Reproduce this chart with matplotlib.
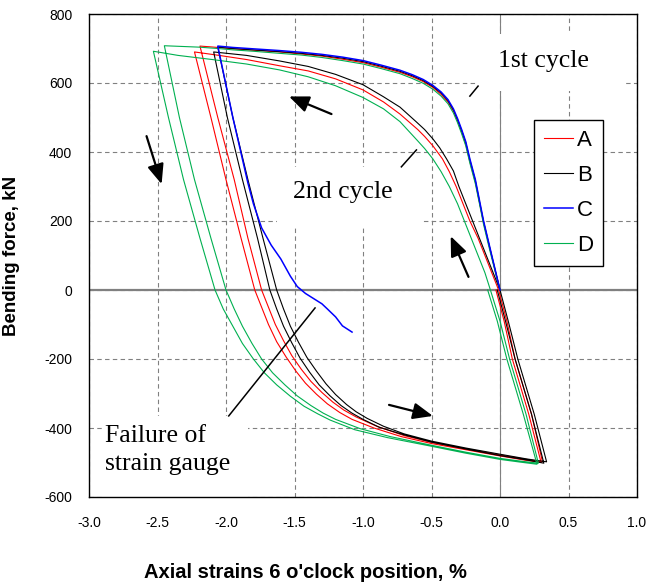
import matplotlib
matplotlib.use("Agg")
from matplotlib import pyplot as plt
from matplotlib.patches import Rectangle

plt.rcParams["axes.unicode_minus"] = False

# first loading branch, strain positions shared by the four gauges
first_x = [0.00, -0.03, -0.06, -0.09, -0.12, -0.15, -0.18, -0.22, -0.25, -0.28, -0.31, -0.34, -0.38, -0.43,
           -0.49, -0.56, -0.64, -0.73, -0.87, -1.00, -1.15, -1.30, -1.45, -1.61, -1.80, -1.95, -2.06]
a_first = [0, 48, 97, 146, 195, 254, 313, 372, 422, 458, 490, 518, 545, 567,
           587, 604, 618, 631, 646, 659, 669, 678, 684, 690, 695, 699, 703]
b_first = [0, 49, 98, 148, 198, 257, 317, 377, 427, 462, 494, 522, 549, 571,
           590, 607, 621, 634, 649, 662, 672, 680, 686, 691, 696, 700, 704]
c_first = [0, 50, 100, 150, 200, 260, 320, 380, 430, 465, 497, 525, 552, 574,
           593, 610, 624, 637, 652, 665, 675, 683, 689, 694, 699, 703, 707]
d_first = [0, 45, 92, 140, 190, 250, 308, 368, 418, 453, 485, 513, 540, 562,
           582, 599, 613, 627, 642, 655, 665, 674, 681, 686, 692, 696, 700]

# gauge A (red)
a_peak1_x, a_peak1_y = [-2.12, -2.19], [705, 707]
a_unload1_x = [-2.06, -1.94, -1.84, -1.74, -1.69, -1.64, -1.58, -1.52, -1.45, -1.38, -1.30, -1.22, -1.14,
               -1.05, -0.90, -0.70, -0.50, -0.25, 0.00, 0.18, 0.31]
a_unload1_y = [500, 320, 150, 0, -50, -100, -147, -190, -230, -265, -297, -325, -348,
               -368, -395, -422, -441, -460, -478, -490, -498]
a_reload1_x = [0.23, 0.11, 0.05, -0.01, -0.06, -0.11, -0.16, -0.22, -0.27, -0.32, -0.37, -0.42, -0.49, -0.55,
               -0.60, -0.73, -0.85, -1.00, -1.20, -1.40, -1.61, -1.85, -2.05, -2.23]
a_reload1_y = [-360, -200, -90, 0, 50, 100, 150, 200, 250, 300, 343, 380, 418, 445,
               465, 510, 545, 580, 612, 635, 650, 668, 680, 690]
a_unload2_x = [-2.11, -2.00, -1.89, -1.79, -1.74, -1.69, -1.63, -1.56, -1.49, -1.42, -1.34, -1.26, -1.17,
               -1.08, -0.92, -0.72, -0.50, -0.25, 0.00, 0.18, 0.30]
a_unload2_y = [500, 320, 150, 0, -50, -100, -150, -195, -235, -270, -302, -330, -355,
               -375, -400, -425, -445, -463, -481, -493, -500]
a_reload2_x = [0.21, 0.09, 0.03, -0.03]
a_reload2_y = [-360, -200, -90, 0]

# gauge B (black)
b_unload1_x = [-1.95, -1.84, -1.73, -1.63, -1.58, -1.53, -1.47, -1.41, -1.34, -1.27, -1.20, -1.12, -1.05,
               -0.97, -0.85, -0.70, -0.50, -0.25, 0.00, 0.20, 0.34]
b_unload1_y = [500, 320, 150, 0, -55, -105, -152, -195, -235, -272, -303, -332, -353,
               -372, -395, -417, -438, -458, -476, -490, -498]
b_reload1_x = [0.25, 0.13, 0.06, 0.00, -0.05, -0.10, -0.15, -0.20, -0.25, -0.30, -0.34, -0.39, -0.44, -0.49,
               -0.55, -0.61, -0.73, -0.85, -1.00, -1.20, -1.40, -1.61, -1.85, -2.09]
b_reload1_y = [-360, -200, -90, 0, 50, 100, 150, 200, 250, 300, 345, 380, 412, 438,
               465, 487, 530, 560, 595, 625, 648, 664, 680, 690]
b_unload2_x = [-1.99, -1.88, -1.77, -1.68, -1.63, -1.58, -1.52, -1.46, -1.39, -1.32, -1.24, -1.16, -1.08,
               -1.00, -0.88, -0.70, -0.50, -0.25, 0.00, 0.20, 0.32]
b_unload2_y = [500, 320, 150, 0, -55, -105, -153, -197, -238, -275, -307, -335, -357,
               -375, -398, -420, -441, -461, -480, -493, -502]
b_reload2_x = [0.23, 0.11, 0.04, -0.02]
b_reload2_y = [-360, -200, -90, 0]

# gauge C (blue), lost during the first unloading
c_unload_x = [-1.95, -1.84, -1.80, -1.74, -1.67, -1.60, -1.53, -1.48, -1.42, -1.36, -1.30, -1.26, -1.20, -1.15, -1.08]
c_unload_y = [500, 310, 250, 180, 130, 90, 40, 10, -10, -25, -40, -55, -78, -104, -122]

# gauge D (green)
d_peak1_x, d_peak1_y = [-2.20, -2.45], [704, 708]
d_unload1_x = [-2.34, -2.23, -2.11, -2.00, -1.94, -1.88, -1.81, -1.74, -1.66, -1.57, -1.48, -1.38, -1.29,
               -1.20, -1.02, -0.80, -0.50, -0.25, 0.00, 0.15, 0.28]
d_unload1_y = [500, 320, 150, 0, -55, -105, -155, -200, -240, -275, -307, -335, -357,
               -375, -402, -425, -450, -470, -488, -496, -502]
d_reload1_x = [0.19, 0.07, 0.00, -0.07, -0.11, -0.16, -0.21, -0.26, -0.31, -0.37, -0.43, -0.49, -0.55, -0.60,
               -0.73, -0.85, -1.00, -1.20, -1.40, -1.61, -1.85, -2.10, -2.35, -2.53]
d_reload1_y = [-360, -200, -90, 0, 50, 100, 150, 200, 250, 300, 343, 380, 410, 432,
               488, 525, 558, 592, 618, 638, 655, 668, 680, 692]
d_unload2_x = [-2.42, -2.31, -2.19, -2.08, -2.02, -1.95, -1.88, -1.80, -1.72, -1.63, -1.53, -1.43, -1.33,
               -1.24, -1.06, -0.82, -0.50, -0.25, 0.00, 0.15, 0.27]
d_unload2_y = [500, 320, 150, 0, -55, -105, -155, -200, -240, -275, -308, -337, -359,
               -377, -405, -428, -453, -473, -491, -499, -505]
d_reload2_x = [0.17, 0.05, -0.02, -0.09]
d_reload2_y = [-360, -200, -90, 0]

labels = ["A", "B", "C", "D"]
colors = ["#ff0000", "#000000", "#0000ff", "#00b050"]

a_x = first_x + a_peak1_x + a_unload1_x + a_reload1_x + a_unload2_x + a_reload2_x
a_y = a_first + a_peak1_y + a_unload1_y + a_reload1_y + a_unload2_y + a_reload2_y
b_x = first_x + b_unload1_x + b_reload1_x + b_unload2_x + b_reload2_x
b_y = b_first + b_unload1_y + b_reload1_y + b_unload2_y + b_reload2_y
c_x = first_x + c_unload_x
c_y = c_first + c_unload_y
d_x = first_x + d_peak1_x + d_unload1_x + d_reload1_x + d_unload2_x + d_reload2_x
d_y = d_first + d_peak1_y + d_unload1_y + d_reload1_y + d_unload2_y + d_reload2_y

fig = plt.figure(figsize=(6.49, 5.85), dpi=100)
ax = fig.add_axes([89 / 649, 1 - 497 / 585, 548 / 649, 483 / 585])

serif = "Liberation Serif"
sans = "Liberation Sans"

ax.plot(a_x, a_y, color=colors[0], lw=0.8, label=labels[0])
ax.plot(b_x, b_y, color=colors[1], lw=0.8, label=labels[1])
ax.plot(c_x, c_y, color=colors[2], lw=1.1, label=labels[2], zorder=2.5)
ax.plot(d_x, d_y, color=colors[3], lw=0.8, label=labels[3])

ax.set_xlim(-3.0, 1.0)
ax.set_ylim(-600, 800)
ax.set_xticks([-3.0, -2.5, -2.0, -1.5, -1.0, -0.5, 0.0, 0.5, 1.0])
ax.set_xticklabels(["-3.0", "-2.5", "-2.0", "-1.5", "-1.0", "-0.5", "0.0", "0.5", "1.0"])
ax.set_yticks(range(-600, 801, 200))
ax.tick_params(length=0, labelsize=10)
ax.tick_params(axis="x", pad=14)
ax.tick_params(axis="y", pad=12)
for lab in ax.get_xticklabels() + ax.get_yticklabels():
    lab.set_fontfamily(sans)

ax.set_axisbelow(True)
ax.grid(True, color="#808080", lw=0.8, ls=(0, (4, 3)))
ax.axhline(0, color="#808080", lw=1.6, zorder=1)
ax.axvline(0, color="#808080", lw=0.8, zorder=1)
for s in ax.spines.values():
    s.set_color("black")
    s.set_linewidth(1.0)

# white text boxes hiding the grid behind the notes
for bx, by, bw, bh in [(-0.16, 577, 1.06, 165), (-1.63, 186, 1.06, 171), (-2.90, -600, 1.06, 235)]:
    ax.add_patch(Rectangle((bx, by), bw, bh, facecolor="white", edgecolor="none", zorder=1.5))

ax.text(0.32, 664, "1st cycle", family=serif, fontsize=18.5, ha="center", va="center", zorder=3)
ax.text(-1.15, 284, "2nd cycle", family=serif, fontsize=18.5, ha="center", va="center", zorder=3)
ax.text(-2.88, -465, "Failure of\nstrain gauge", family=serif, fontsize=18.5, ha="left", va="center",
        linespacing=1.35, zorder=3)

# pointer lines from the notes
ax.plot([-0.22, -0.16], [562, 591], color="black", lw=1.1, zorder=3)
ax.plot([-0.72, -0.61], [357, 406], color="black", lw=1.1, zorder=3)
ax.plot([-1.35, -1.98], [-52, -365], color="black", lw=1.1, zorder=3)

# loading direction arrows
arrow = dict(arrowstyle="-|>,head_length=1.2,head_width=0.5", color="black", lw=1.6,
             shrinkA=0, shrinkB=0)
for (x0, y0), (x1, y1) in [((-1.23, 510), (-1.54, 561)), ((-2.58, 446), (-2.47, 307)),
                           ((-0.23, 38), (-0.36, 156)), ((-0.81, -333), (-0.49, -365))]:
    ax.annotate("", xy=(x1, y1), xytext=(x0, y0), arrowprops=arrow, zorder=3)

leg = ax.legend(loc="upper left", bbox_to_anchor=(0.812, 0.78), borderaxespad=0,
                prop={"family": sans, "size": 16}, handlelength=1.3, handletextpad=0.18,
                labelspacing=0.62, borderpad=0.45, fancybox=False, framealpha=1)
leg.get_frame().set_edgecolor("black")
leg.get_frame().set_linewidth(1.0)

ax.set_ylabel("Bending force, kN", family=sans, fontsize=13.5, fontweight="bold")
ax.yaxis.set_label_coords(-0.126, 0.5)
fig.text(305 / 649, 1 - 573 / 585, "Axial strains 6 o'clock position, %", family=sans,
         fontsize=14.5, fontweight="bold", ha="center", va="center")

plt.savefig("out.png", dpi=100)
